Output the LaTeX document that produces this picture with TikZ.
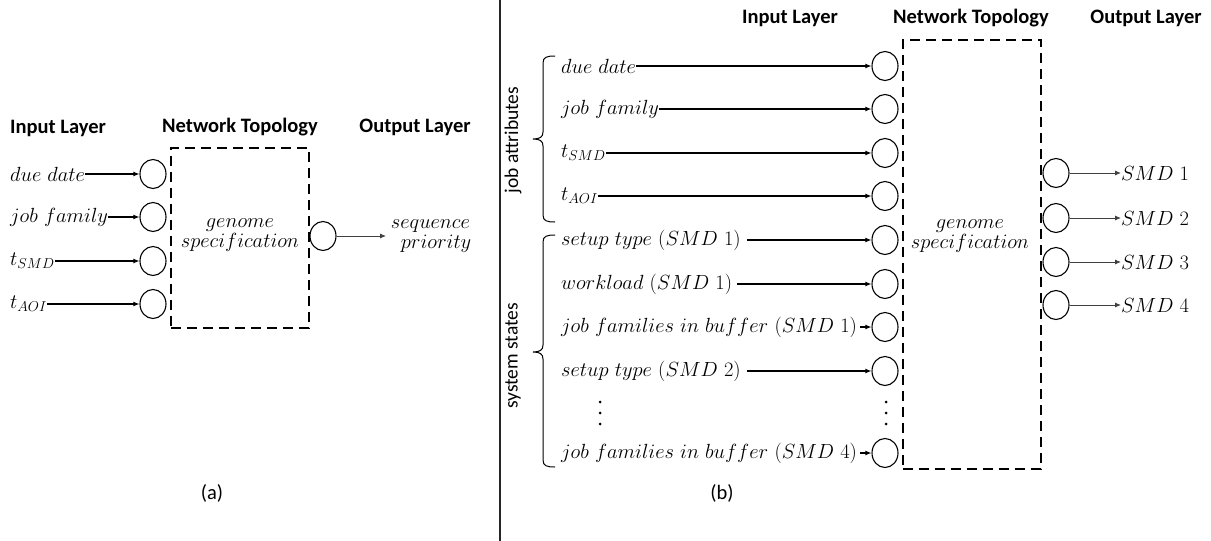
\RequirePackage{fix-cm}
\documentclass[tikz,border=0pt]{standalone}
\usepackage{fontspec}
\newfontfamily\calib{Carlito}
\usetikzlibrary{shapes.geometric,arrows.meta}
\tikzset{
  neuron/.style={ellipse,draw,line width=1.1pt,minimum width=26pt,minimum height=29pt,inner sep=0pt},
  hdr/.style={font=\calib\bfseries\fontsize{20.5}{22}\selectfont},
  captext/.style={font=\calib\fontsize{20.5}{22}\selectfont},
  side/.style={font=\calib\fontsize{19.5}{21}\selectfont,rotate=90},
  lab/.style={anchor=west,inner sep=0pt,font=\fontsize{20.5}{22}\selectfont},
  mid/.style={align=center,font=\fontsize{20.5}{24}\selectfont},
  inarr/.style={-{Latex[length=6pt,width=5pt]},line width=1.1pt},
  outarr/.style={-{Latex[length=6pt,width=5pt]},line width=0.9pt,black!75},
  dbox/.style={draw,line width=1.7pt,dash pattern=on 10pt off 6pt},
  brc/.style={line width=1pt},
  vdot/.style={circle,fill,inner sep=0pt,minimum size=3pt}
}
\begin{document}
\begin{tikzpicture}[x=1pt,y=-1pt]
\useasboundingbox (0,0) rectangle (1211,541);
% ---------------- panel (a)
\node[hdr] (ha1) at (58,128) {Input Layer};
\node[hdr] (ha2) at (240,127) {Network Topology};
\node[hdr] (ha3) at (415,127) {Output Layer};
\node[dbox,minimum width=138pt,minimum height=180pt,anchor=north west] (boxa) at (170,147) {};
\node[mid] (gena) at (240,235) {$genome$\\[-4pt]$specification$};
\foreach \i/\y in {1/174,2/217,3/261,4/304}{\node[neuron] (ai\i) at (153,\y) {};}
\node[lab] (la1) at (10,174) {$due\ date$};
\node[lab] (la2) at (10,217) {$job\ family$};
\node[lab] (la3) at (10,261) {$t_{SMD}$};
\node[lab] (la4) at (10,304) {$t_{AOI}$};
\foreach \i in {1,...,4}{\draw[inarr] (la\i.east) -- (ai\i.west);}
\node[neuron] (ao) at (323,236) {};
\node[mid,anchor=west] (seq) at (386,236) {$sequence$\\[-4pt]$\;\;priority$};
\draw[outarr] (ao.east) -- (seq.west);
\node[captext] (capa) at (212,493) {(a)};
% ---------------- divider
\coordinate (d1) at (500,0);
\coordinate (d2) at (500,541);
\draw[line width=1.5pt,black!85] (d1) -- (d2);
% ---------------- panel (b)
\node[hdr] (hb1) at (790,18) {Input Layer};
\node[hdr] (hb2) at (971,18) {Network Topology};
\node[hdr] (hb3) at (1146,18) {Output Layer};
\node[dbox,minimum width=138pt,minimum height=429pt,anchor=north west] (boxb) at (902,39) {};
\node[mid] (genb) at (970,236) {$genome$\\[-4pt]$specification$};
\foreach \i/\y in {1/66,2/109,3/153,4/196,5/240,6/284,7/327,8/371,9/453}{\node[neuron] (bi\i) at (885,\y) {};}
\node[lab] (lb1) at (561,66) {$due\ date$};
\node[lab] (lb2) at (561,109) {$job\ family$};
\node[lab] (lb3) at (561,153) {$t_{SMD}$};
\node[lab] (lb4) at (561,196) {$t_{AOI}$};
\node[lab] (lb5) at (561,240) {$setup\ type\ (SMD\ 1)$};
\node[lab] (lb6) at (561,284) {$workload\ (SMD\ 1)$};
\node[lab] (lb7) at (561,327) {$job\ families\ in\ buffer\ (SMD\ 1)$};
\node[lab] (lb8) at (561,371) {$setup\ type\ (SMD\ 2)$};
\node[lab] (lb9) at (561,453) {$job\ families\ in\ buffer\ (SMD\ 4)$};
\draw[inarr] (lb1.east) -- (bi1.west);
\draw[inarr] (lb2.east) -- (bi2.west);
\draw[inarr] (lb3.east) -- (bi3.west);
\draw[inarr] (lb4.east) -- (bi4.west);
\draw[inarr] ([xshift=6pt]lb5.east) -- (bi5.west);
\draw[inarr] ([xshift=5pt]lb6.east) -- (bi6.west);
\draw[inarr] ([xshift=3pt]lb7.east) -- (bi7.west);
\draw[inarr] ([xshift=6pt]lb8.east) -- (bi8.west);
\draw[inarr] ([xshift=3pt]lb9.east) -- (bi9.west);
\foreach \y in {402,413,424}{
  \node[vdot] at (600,\y) {};
  \node[vdot] at (886,\y) {};
}
\foreach \i/\y in {1/173,2/218,3/262,4/305}{
  \node[neuron] (bo\i) at (1056,\y) {};
  \node[lab] (lo\i) at (1121,\y) {$SMD\ \i$};
  \draw[outarr] (bo\i.east) -- (lo\i.west);
}
% braces
\draw[brc] (555,56) .. controls (547,56) and (543,57) .. (543,63) -- (543,132)
  .. controls (543,137) and (540,139) .. (533,139)
  .. controls (540,139) and (543,141) .. (543,146) -- (543,215)
  .. controls (543,221) and (547,222) .. (555,222);
\draw[brc] (555,235) .. controls (547,235) and (543,236) .. (543,242) -- (543,345)
  .. controls (543,350) and (540,352) .. (533,352)
  .. controls (540,352) and (543,354) .. (543,359) -- (543,460)
  .. controls (543,466) and (547,467) .. (555,467);
\node[side] (ja) at (513,140) {job attributes};
\node[side] (ss) at (513,356) {system states};
\node[captext] (capb) at (722,493) {(b)};
\end{tikzpicture}
\end{document}
